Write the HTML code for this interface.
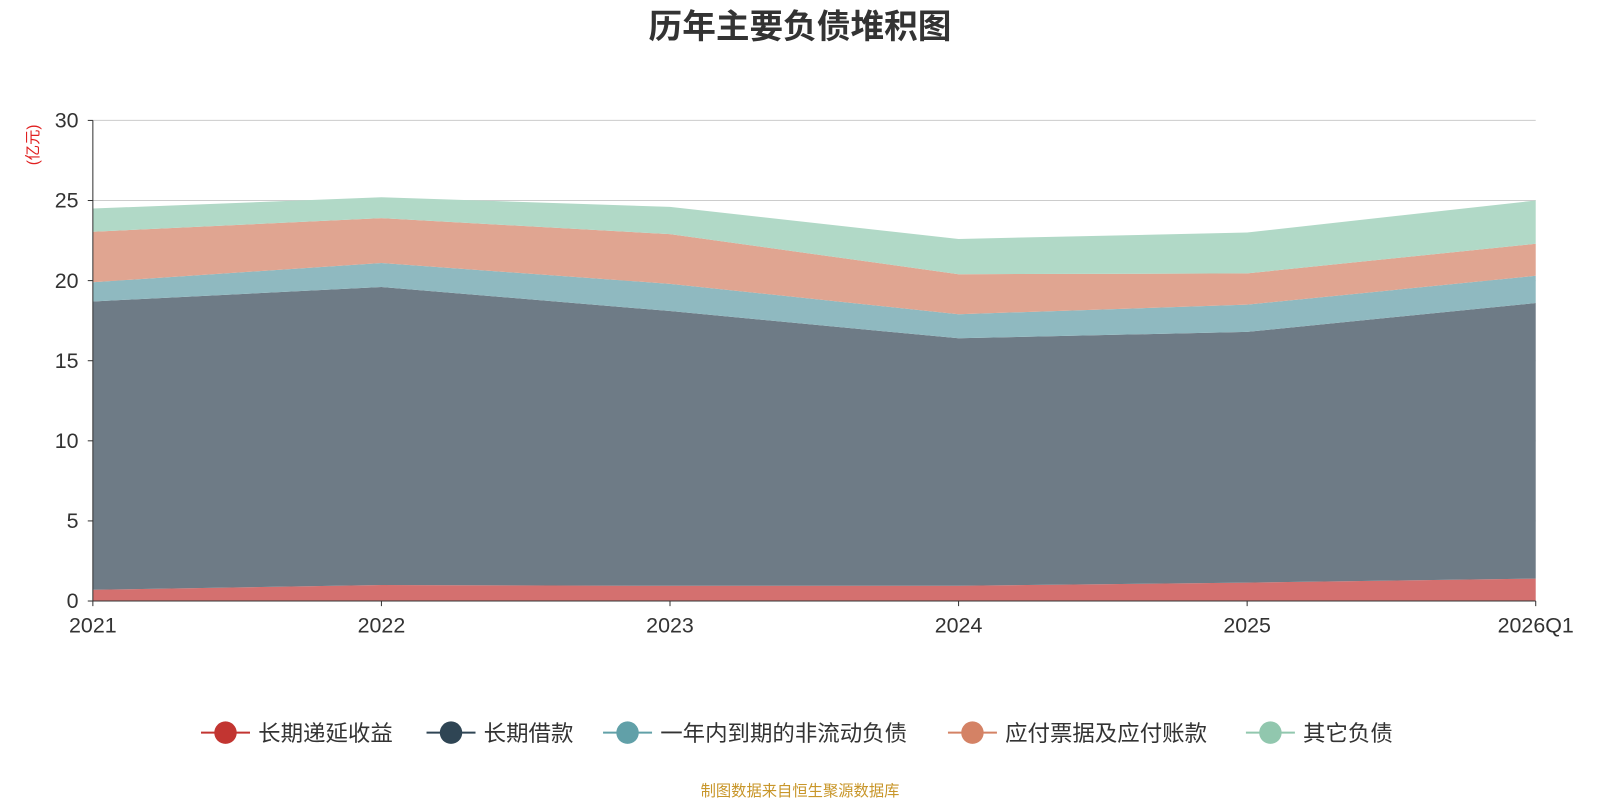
<!DOCTYPE html>
<html><head><meta charset="utf-8"><style>
body{margin:0;width:1600px;height:800px;background:#fff;font-family:"Liberation Sans","Noto Sans CJK SC",sans-serif;overflow:hidden}
svg{display:block}
</style></head><body>
<svg id="chart" width="1600" height="800" viewBox="0 0 1568 784">
<text x="784" y="37" text-anchor="middle" font-size="33" font-weight="bold" fill="#333" font-family="Liberation Sans, Noto Sans CJK SC, sans-serif">历年主要负债堆积图</text>
<text transform="translate(37,142) rotate(-90)" text-anchor="middle" font-size="15" fill="#e02020" font-family="Liberation Sans, Noto Sans CJK SC, sans-serif">(亿元)</text>
<g id="grid"></g><g id="areas"></g><g id="axes"></g><g id="legend"></g>
<text x="784" y="780" text-anchor="middle" font-size="15" fill="#c8962a" font-family="Liberation Sans, Noto Sans CJK SC, sans-serif">制图数据来自恒生聚源数据库</text>
</svg>
<script>
const categories=["2021","2022","2023","2024","2025","2026Q1"];
const deferredIncome=[0.7,1.0,0.95,0.95,1.15,1.4];
const longTermLoans=[18.0,18.6,17.15,15.45,15.65,17.2];
const currentNonCurrent=[1.2,1.5,1.7,1.5,1.7,1.7];
const payables=[3.15,2.8,3.1,2.5,1.95,2.0];
const otherLiabilities=[1.45,1.3,1.7,2.2,2.55,2.7];
const yTicks=[0,5,10,15,20,25,30];
const seriesNames=["长期递延收益","长期借款","一年内到期的非流动负债","应付票据及应付账款","其它负债"];
const seriesData=[deferredIncome,longTermLoans,currentNonCurrent,payables,otherLiabilities];
const fills=["#d4706f","#6e7b86","#8fb9c0","#e0a591","#b1d9c7"];
const markers=["#c23531","#2f4554","#61a0a8","#d48265","#91c7ae"];
const X0=91,X1=1505,Y0=589,Y1=118,YMAX=30;
const ns="http://www.w3.org/2000/svg";
const xs=i=>X0+(X1-X0)*i/(categories.length-1);
const ys=v=>Y0-(Y0-Y1)*v/YMAX;
function mk(t,a,p){const e=document.createElementNS(ns,t);for(const k in a)e.setAttribute(k,a[k]);p.appendChild(e);return e;}
const F="Liberation Sans, Noto Sans CJK SC, sans-serif";
const grid=document.getElementById('grid'),axes=document.getElementById('axes'),areas=document.getElementById('areas'),legend=document.getElementById('legend');
yTicks.forEach(t=>{
 if(t>0){const g=mk('line',{x1:X0,x2:X1,y1:ys(t),y2:ys(t),stroke:'#ccc','stroke-width':1},grid);
 
 }
 const tk=mk('line',{x1:X0-5,x2:X0,y1:ys(t),y2:ys(t),stroke:'#333'},axes);
 
 
 const l=mk('text',{x:X0-14,y:ys(t)+7,'text-anchor':'end','font-size':21,fill:'#333','font-family':F},axes);l.textContent=t;
 
 
});
let base=categories.map(()=>0);
seriesData.forEach((s,k)=>{
 const top=s.map((v,i)=>base[i]+v);
 let d='M'+categories.map((c,i)=>xs(i)+','+ys(top[i])).join('L');
 for(let i=categories.length-1;i>=0;i--)d+='L'+xs(i)+','+ys(base[i]);
 const p=mk('path',{d:d+'Z',fill:fills[k]},areas);
 
 
 base=top;
});
const ya=mk('line',{x1:X0,x2:X0,y1:Y1,y2:Y0,stroke:'#333'},axes);


const xa=mk('line',{x1:X0,x2:X1,y1:Y0,y2:Y0,stroke:'#333'},axes);


categories.forEach((c,i)=>{
 const tk=mk('line',{x1:xs(i),x2:xs(i),y1:Y0,y2:Y0+5,stroke:'#333'},axes);
 
 
 const l=mk('text',{x:xs(i),y:Y0+31,'text-anchor':'middle','font-size':21,fill:'#333','font-family':F},axes);l.textContent=c;
 
 
});
const starts=[197,418,591,929,1221];
seriesNames.forEach((n,k)=>{
 const g=mk('g',{},legend);
 
 
 const x=starts[k];
 mk('line',{x1:x,x2:x+48,y1:718,y2:718,stroke:markers[k],'stroke-width':2},g);
 mk('circle',{cx:x+24,cy:718,r:11,fill:markers[k]},g);
 const t=mk('text',{x:x+56,y:726,'font-size':22,fill:'#333','font-family':F},g);t.textContent=n;
});
</script>
</body></html>
